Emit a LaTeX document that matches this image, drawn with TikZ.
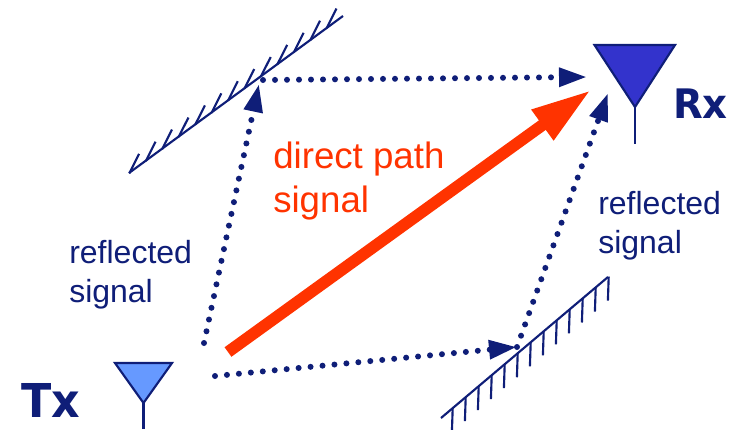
\documentclass[tikz,border=0pt]{standalone}
\usepackage{fontspec}
\setmainfont{Liberation Sans}
\newfontfamily\boldlab{DejaVu Sans Bold}
\usetikzlibrary{arrows.meta}
\definecolor{navy}{RGB}{15,30,120}
\definecolor{redor}{RGB}{255,51,0}
\definecolor{txblue}{RGB}{102,153,255}
\definecolor{rxblue}{RGB}{51,51,204}
\tikzset{
  x=0.75pt,y=-0.75pt,
  dotarrow/.style={navy,line width=4.5pt,line cap=round,dash pattern=on 0pt off 9pt,
    -{Triangle[length=21pt,width=13.5pt]}},
  mirror/.style={navy,line width=1.6pt},
  tick/.style={navy,line width=1.6pt},
  antenna/.style={draw=navy,line width=1.6pt,line join=miter},
  stem/.style={navy,line width=1.6pt},
  bluetext/.style={navy,font=\fontsize{24}{29}\selectfont,align=left,anchor=north west,inner sep=0pt},
  redtext/.style={redor,font=\fontsize{27.5}{33}\selectfont,align=left,anchor=north west,inner sep=0pt},
  idtext/.style={navy,inner sep=0pt}
}
\begin{document}
\begin{tikzpicture}
\useasboundingbox (0,0) rectangle (731,429);
% named points
\coordinate (txA) at (204,343);
\coordinate (txB) at (215,376);
\coordinate (topHit) at (263,80);
\coordinate (topTip) at (259,84);
\coordinate (botHit) at (517,347);
\coordinate (rxTop) at (587,77);
\coordinate (rxBot) at (608,93);
% mirrors
\draw[mirror] (129,173) coordinate (m1a) -- (343,16) coordinate (m1b);
\foreach \t in {0,...,12}{
  \pgfmathsetmacro{\xx}{129.3+\t*16.45}
  \pgfmathsetmacro{\yy}{173.3-\t*12.1}
  \draw[tick] (\xx,\yy) -- ++(9.8,-19.5);
}
\draw[mirror] (441,418) coordinate (m2a) -- (608,277) coordinate (m2b);
\foreach \t in {0,...,12}{
  \pgfmathsetmacro{\xx}{452.7+\t*13}
  \pgfmathsetmacro{\yy}{408-\t*10.95}
  \draw[tick] (\xx,\yy) -- ++(-0.8,24);
}
% antennas
\draw[stem] (143.5,403) coordinate (txFoot) -- (143.5,429);
\draw[antenna,fill=txblue] (115,363) -- (172,363) -- (143.5,403) -- cycle;
\draw[stem] (635,107) coordinate (rxFoot) -- (635,144);
\draw[antenna,fill=rxblue] (594.5,45) -- (675,45) -- (635,107) -- cycle;
% reflected paths
\draw[dotarrow] (txA) -- (topTip);
\draw[dotarrow] (topHit) -- (rxTop);
\draw[dotarrow] (txB) -- (botHit);
\draw[dotarrow] (botHit) -- (rxBot);
% direct path
\coordinate (dirA) at (228,352);
\coordinate (dirB) at (591,90);
\draw[redor,line width=8.8pt,-{Triangle[length=45pt,width=26pt]}] (dirA) -- (dirB);
% labels
\node[redtext] (direct) at (273,142) {direct path\\signal};
\node[bluetext] (refl1) at (69,240) {reflected\\signal};
\node[bluetext] (refl2) at (598,191) {reflected\\signal};
\node[idtext,xscale=0.95,font=\boldlab\fontsize{35}{38}\selectfont] (tx) at (51,400) {Tx};
\node[idtext,xscale=0.95,font=\boldlab\fontsize{30.5}{34}\selectfont] (rx) at (700.5,104) {Rx};
\end{tikzpicture}
\end{document}
